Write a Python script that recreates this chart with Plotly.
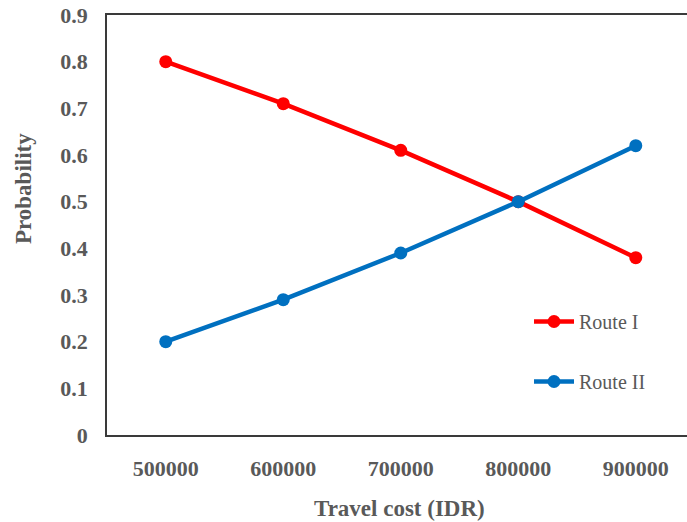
import plotly.graph_objects as go

travel_cost = ["500000", "600000", "700000", "800000", "900000"]
route_1 = [0.80, 0.71, 0.61, 0.50, 0.38]
route_2 = [0.20, 0.29, 0.39, 0.50, 0.62]
y_ticks = [0, 0.1, 0.2, 0.3, 0.4, 0.5, 0.6, 0.7, 0.8, 0.9]
y_tick_labels = ["0", "0.1", "0.2", "0.3", "0.4", "0.5", "0.6", "0.7", "0.8", "0.9"]

FONT = "Liberation Serif, Times New Roman, serif"
GRAY = "#595959"

fig = go.Figure()
fig.add_trace(go.Scatter(
    x=travel_cost, y=route_1, name="Route I", mode="lines+markers",
    line=dict(color="#FF0000", width=4.5), marker=dict(size=13, color="#FF0000"),
    legendgroup="a"))
fig.add_trace(go.Scatter(
    x=travel_cost, y=route_2, name="Route II", mode="lines+markers",
    line=dict(color="#0070C0", width=4.5), marker=dict(size=13, color="#0070C0"),
    legendgroup="b"))

fig.update_layout(
    width=687, height=522,
    margin=dict(l=107, r=0, t=15, b=87),
    paper_bgcolor="white", plot_bgcolor="white",
    font=dict(family=FONT, color=GRAY),
    showlegend=True,
    legend=dict(
        x=0.7276, y=0.3167, xanchor="left", yanchor="top",
        font=dict(family=FONT, size=20, color=GRAY),
        tracegroupgap=31, traceorder="grouped",
        bgcolor="rgba(0,0,0,0)", itemwidth=40,
    ),
    xaxis=dict(
        type="category", range=[-0.5, 4.436],
        showline=True, linecolor="#3a3a3a", linewidth=1.5, mirror=True,
        showgrid=False, zeroline=False,
        ticks="outside", ticklen=13, tickcolor="rgba(0,0,0,0)",
        tickfont=dict(family=FONT, size=22, color=GRAY, weight="bold"),
    ),
    yaxis=dict(
        range=[0, 0.9], tickvals=y_ticks, ticktext=y_tick_labels,
        showline=True, linecolor="#3a3a3a", linewidth=1.5,
        showgrid=False, zeroline=False,
        ticks="outside", ticklen=13, tickcolor="rgba(0,0,0,0)",
        tickfont=dict(family=FONT, size=22, color=GRAY, weight="bold"),
    ),
    annotations=[
        dict(text="<b>Travel cost (IDR)</b>", xref="paper", yref="paper",
             x=0.505, y=-0.176, xanchor="center", yanchor="middle",
             showarrow=False, font=dict(family=FONT, size=23, color=GRAY)),
        dict(text="<b>Probability</b>", xref="paper", yref="paper",
             x=-0.1448, y=0.5857, xanchor="center", yanchor="middle",
             textangle=-90, showarrow=False, font=dict(family=FONT, size=23, color=GRAY)),
    ],
)

fig.write_html(
    "out.html",
    config={"displayModeBar": False},
    post_script="document.body.style.margin='0';document.body.style.overflow='hidden';",
)
